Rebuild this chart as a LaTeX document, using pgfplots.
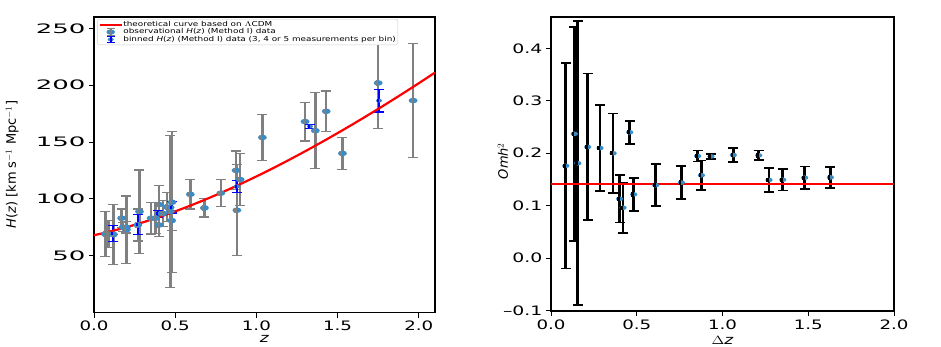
\documentclass[border=0pt]{standalone}
\usepackage{fontspec}
\setmainfont{DejaVu Sans}
\usepackage{graphicx}
\usepackage{pgfplots}
\usepackage{pgfplotstable}
\pgfplotsset{compat=1.18}

\definecolor{tabblue}{HTML}{1F77B4}
\definecolor{mkblue}{HTML}{3B8CC4}
\definecolor{mplgray}{HTML}{808080}

% wide ellipse marker with the error bar showing through its middle
% (the reference is stretched sideways, and its bars lie over the markers)
\newcommand{\barmark}[3]{%
  \pgfdeclareplotmark{#1}{%
    \pgfpathellipse{\pgfpointorigin}{\pgfqpoint{1.6\pgfplotmarksize}{0pt}}{\pgfqpoint{0pt}{\pgfplotmarksize}}%
    \pgfsetfillcolor{mkblue}\pgfusepathqfill
    \pgfpathrectangle{\pgfqpoint{-#3/2}{-0.95\pgfplotmarksize}}{\pgfqpoint{#3}{1.9\pgfplotmarksize}}%
    \pgfsetfillcolor{#2}\pgfusepathqfill}}
\barmark{ringgray}{mplgray}{2.5pt}
\barmark{ringblue}{blue}{2pt}
\barmark{ringblack}{black}{2.8pt}
% empty marker, for plots that only carry error bars
\pgfdeclareplotmark{nothing}{}

\newcommand{\sx}[2][1.3]{\scalebox{#1}[1]{#2}}
\newcommand{\tk}[1]{\fontsize{13}{13}\selectfont\sx[1.4]{#1}}
\newcommand{\tky}[1]{\fontsize{13}{13}\selectfont\sx[2.0]{#1}}
\newcommand{\tkr}[1]{\fontsize{13}{13}\selectfont\sx[1.45]{#1}}

% observational H(z) data: z, H, sigma
\pgfplotstableread{
z      H      e
0.07   69     19.6
0.09   69     12
0.12   68.6   26.2
0.17   83     8
0.179  75     4
0.199  75     5
0.20   72.9   29.6
0.27   77     14
0.28   88.8   36.6
0.352  83     14
0.3802 83     13.5
0.40   95     17
0.4004 77     10.2
0.4247 87.1   11.2
0.4497 92.8   12.9
0.47   89     67
0.4783 80.9   9
0.48   97     62
0.593  104    13
0.68   92     8
0.781  105    12
0.875  125    17
0.88   90     40
0.90   117    23
1.037  154    20
1.30   168    17
1.363  160    33.6
1.43   177    18
1.53   140    14
1.75   202    40
1.965  186.5  50.4
}\obs

% binned H(z)
\pgfplotstableread{
z      H      e
0.12   69.5   7.2
0.27   77.5   8.8
0.395  87     3.0
0.478  92.5   5.0
0.88   111    5.4
1.33   163.7  1.9
1.755  186.4  10.1
}\binned

% LCDM curve, sampled
\pgfplotstableread{
z    H
0.0  68.00
0.1  71.30
0.2  75.06
0.3  79.27
0.4  83.92
0.5  88.99
0.6  94.44
0.7  100.26
0.8  106.43
0.9  112.92
1.0  119.73
1.1  126.82
1.2  134.19
1.3  141.83
1.4  149.71
1.5  157.83
1.6  166.19
1.7  174.76
1.8  183.54
1.9  192.53
2.0  201.72
2.1  211.10
}\lcdm

% Omh^2 vs Delta z
\pgfplotstableread{
dz     om      e
0.086  0.176   0.196
0.136  0.237   0.204
0.156  0.181   0.271
0.214  0.212   0.140
0.286  0.210   0.082
0.362  0.200   0.076
0.400  0.113   0.045
0.420  0.096   0.048
0.459  0.240   0.022
0.482  0.1215  0.032
0.610  0.139   0.040
0.760  0.144   0.031
0.855  0.1947  0.0105
0.877  0.158   0.028
0.933  0.194   0.005
1.063  0.1966  0.0137
1.211  0.196   0.0093
1.271  0.149   0.0225
1.351  0.1495  0.0207
1.479  0.1533  0.0216
1.629  0.154   0.020
}\omh

\pgfplotsset{
  mpl/.style={
    scale only axis,
    axis line style={line width=1.2pt},
    tick style={black, line width=0.8pt},
    tick align=outside,
    major tick length=5pt,
    tick pos=left,
    xtick={0,0.5,1,1.5,2},
    xticklabels={\tk{0.0},\tk{0.5},\tk{1.0},\tk{1.5},\tk{2.0}},
  },
}

\begin{document}
\begin{tikzpicture}
\useasboundingbox (-94pt,-33.5pt) rectangle (847pt,312.5pt);

\begin{axis}[mpl,
  at={(0pt,0pt)}, anchor=south west,
  width=341pt, height=295.5pt,
  xmin=0, xmax=2.1, ymin=0, ymax=260,
  ytick={50,100,150,200,250},
  yticklabels={\tky{50},\tky{100},\tky{150},\tky{200},\tky{250}},
  xlabel={\fontsize{13}{13}\selectfont\sx{\textit{z}}},
  xlabel style={at={(axis description cs:0.5,-0.09)}, anchor=center},
  ylabel={\fontsize{13}{13}\selectfont \textit{H}(\textit{z}) [km s$^{-1}$ Mpc$^{-1}$]},
  ylabel style={at={(axis description cs:-0.24,0.5)}, anchor=center},
  legend style={at={(axis description cs:0.01,0.993)}, anchor=north west,
    font=\fontsize{6.8}{7.5}\selectfont, draw=black!20, rounded corners=2pt,
    fill=white, inner sep=1.2pt, row sep=-1pt,
    nodes={inner sep=0.8pt}},
  legend cell align=left,
]
\addlegendimage{legend image code/.code={
  \draw[red, line width=1.8pt] (0pt,0pt) -- (22pt,0pt);}}
\addlegendimage{legend image code/.code={
  \fill[mkblue] (11pt,0pt) ellipse (4pt and 2.4pt);
  \draw[mplgray, line width=2.2pt] (11pt,-3.2pt) -- (11pt,3.2pt);
  \draw[mplgray, line width=1pt] (7pt,-3.2pt) -- (15pt,-3.2pt) (7pt,3.2pt) -- (15pt,3.2pt);}}
\addlegendimage{legend image code/.code={
  \fill[mkblue] (11pt,0pt) ellipse (2.8pt and 1.7pt);
  \draw[blue, line width=1.6pt] (11pt,-3.2pt) -- (11pt,3.2pt);
  \draw[blue, line width=1pt] (7pt,-3.2pt) -- (15pt,-3.2pt) (7pt,3.2pt) -- (15pt,3.2pt);}}

% observational points
\addplot[only marks, mark=nothing, forget plot,
  error bars/.cd, y dir=both, y explicit,
  error bar style={mplgray, line width=2.5pt},
  error mark options={mplgray, rotate=90, mark size=5pt, line width=1.3pt}]
  table[x=z, y=H, y error=e] {\obs};
\addplot[only marks, mark=ringgray, mark size=2.8pt, forget plot]
  table[x=z, y=H] {\obs};

% binned points
\addplot[only marks, mark=nothing, forget plot,
  error bars/.cd, y dir=both, y explicit,
  error bar style={blue, line width=2pt},
  error mark options={blue, rotate=90, mark size=5pt, line width=1.3pt}]
  table[x=z, y=H, y error=e] {\binned};
\addplot[only marks, mark=ringblue, mark size=1.9pt, forget plot]
  table[x=z, y=H] {\binned};

\addplot[red, line width=2.2pt, smooth, forget plot] table[x=z, y=H] {\lcdm};

\legend{\sx{theoretical curve based on $\Lambda$CDM},
  \sx{observational \textit{H}(\textit{z}) (Method I) data},
  \sx{binned \textit{H}(\textit{z}) (Method I) data (3{,} 4 or 5 measurements per bin)}}
\end{axis}

\begin{axis}[mpl,
  at={(457pt,1.5pt)}, anchor=south west,
  width=343pt, height=294pt,
  xmin=0, xmax=2, ymin=-0.101, ymax=0.46,
  ytick={-0.1,0,0.1,0.2,0.3,0.4},
  yticklabels={\tkr{–0.1},\tkr{0.0},\tkr{0.1},\tkr{0.2},\tkr{0.3},\tkr{0.4}},
  xlabel={\fontsize{13}{13}\selectfont\sx{$\Delta$\textit{z}}},
  xlabel style={at={(axis description cs:0.5,-0.1)}, anchor=center},
  ylabel={\fontsize{13}{13}\selectfont\textit{Omh}$^{2}$},
  ylabel style={at={(axis description cs:-0.14,0.51)}, anchor=center},
]
\addplot[only marks, mark=nothing,
  error bars/.cd, y dir=both, y explicit,
  error bar style={black, line width=2.8pt},
  error mark options={black, rotate=90, mark size=5pt, line width=1.8pt}]
  table[x=dz, y=om, y error=e] {\omh};
\addplot[only marks, mark=ringblack, mark size=2.3pt]
  table[x=dz, y=om] {\omh};
\addplot[red, line width=2pt] coordinates {(0,0.1412) (2,0.1412)};
\end{axis}
\end{tikzpicture}
\end{document}
